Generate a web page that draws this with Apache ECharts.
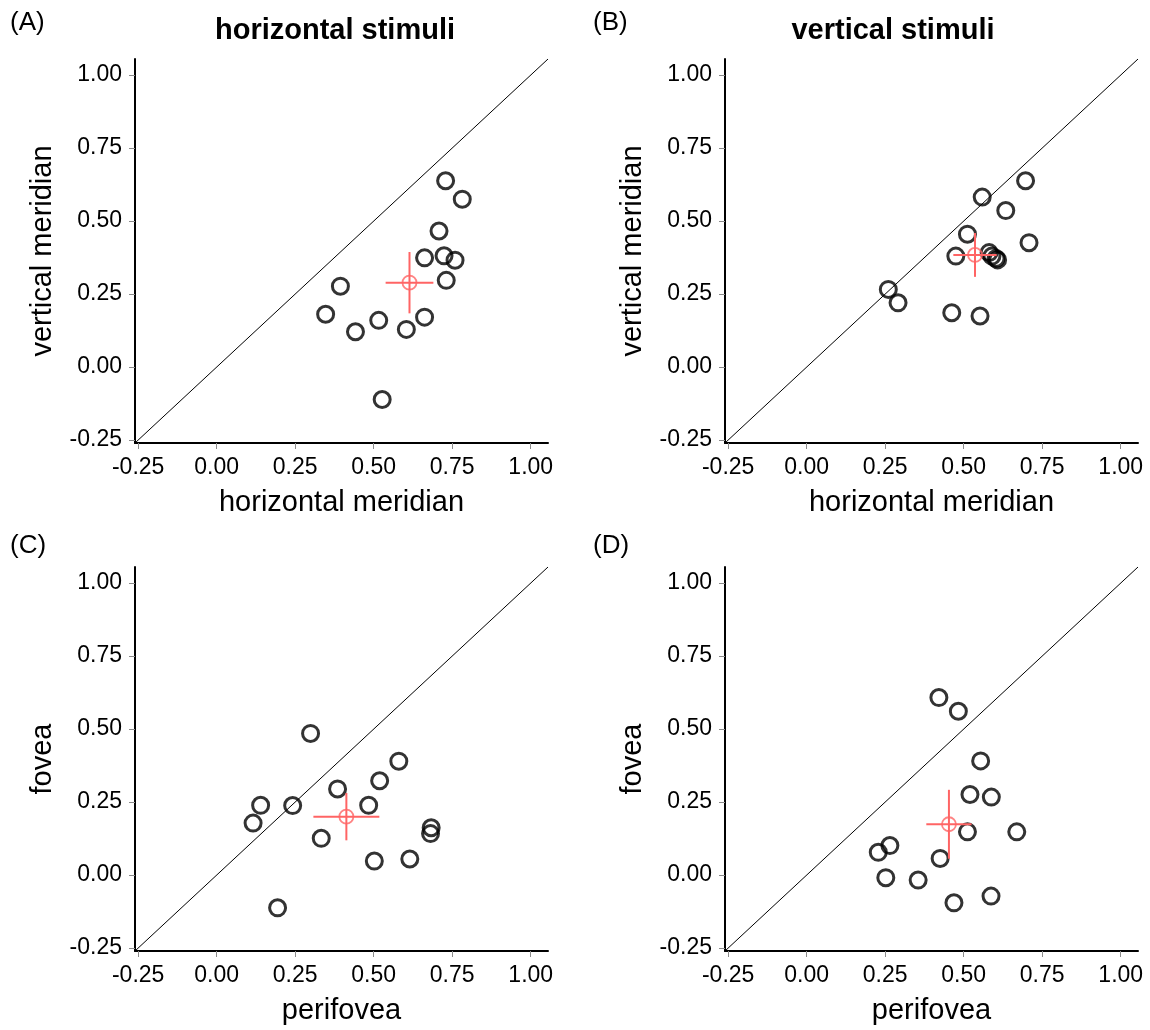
<!DOCTYPE html>
<html>
<head>
<meta charset="utf-8">
<script src="https://cdn.jsdelivr.net/npm/echarts@6/dist/echarts.min.js"></script>
<style>
  html, body { margin: 0; padding: 0; background: #fff; }
  #chart { width: 1150px; height: 1030px; }
</style>
</head>
<body>
<div id="chart"></div>
<script>
// tick values shared by every axis
var ticks = [-0.25, 0, 0.25, 0.5, 0.75, 1];
var axMin = -0.26, axMax = 1.055;

// (A) horizontal stimuli
var aX = [0.729, 0.782, 0.708, 0.662, 0.724, 0.759, 0.731, 0.394, 0.347, 0.442, 0.516, 0.604, 0.662, 0.527];
var aY = [0.638, 0.575, 0.466, 0.374, 0.381, 0.366, 0.297, 0.277, 0.181, 0.121, 0.160, 0.129, 0.171, -0.111];
// (B) vertical stimuli
var bX = [0.697, 0.559, 0.634, 0.512, 0.708, 0.475, 0.581, 0.590, 0.603, 0.608, 0.260, 0.291, 0.462, 0.552];
var bY = [0.638, 0.582, 0.536, 0.455, 0.426, 0.380, 0.392, 0.380, 0.372, 0.367, 0.266, 0.220, 0.186, 0.175];
// (C) horizontal stimuli, perifovea vs fovea
var cX = [0.299, 0.580, 0.519, 0.385, 0.140, 0.242, 0.484, 0.116, 0.333, 0.683, 0.681, 0.502, 0.615, 0.194];
var cY = [0.485, 0.390, 0.323, 0.295, 0.239, 0.238, 0.239, 0.178, 0.126, 0.162, 0.142, 0.048, 0.055, -0.112];
// (D) vertical stimuli, perifovea vs fovea
var dX = [0.421, 0.483, 0.554, 0.520, 0.588, 0.512, 0.669, 0.228, 0.265, 0.425, 0.252, 0.355, 0.469, 0.587];
var dY = [0.608, 0.561, 0.391, 0.276, 0.267, 0.148, 0.148, 0.078, 0.101, 0.057, -0.009, -0.017, -0.095, -0.072];

// group means and error bar half-lengths, panels A..D
var meanX = [0.614, 0.536, 0.413, 0.453];
var meanY = [0.289, 0.384, 0.200, 0.174];
var errX = [0.076, 0.069, 0.105, 0.072];
var errY = [0.105, 0.075, 0.081, 0.118];

var panelLabels = ['(A)', '(B)', '(C)', '(D)'];
var colTitles = ['horizontal stimuli', 'vertical stimuli'];
var xNames = ['horizontal meridian', 'horizontal meridian', 'perifovea', 'perifovea'];
var yNames = ['vertical meridian', 'vertical meridian', 'fovea', 'fovea'];

var RED = '#ff6464';
var FONT = '"Liberation Sans", Arial, sans-serif';

var xs = [aX, bX, cX, dX], ys = [aY, bY, cY, dY];
var gridPos = [[135, 59], [725, 59], [135, 567], [725, 567]];

var chart = echarts.init(document.getElementById('chart'), null, {renderer: 'canvas'});

var grids = [], xAxes = [], yAxes = [], series = [], titles = [];

function axisBase(name, gap) {
  return {
    type: 'value', min: axMin, max: axMax,
    name: name, nameLocation: 'middle', nameGap: gap,
    nameTextStyle: {fontSize: 29, color: '#000', fontFamily: FONT},
    splitLine: {show: false},
    axisLine: {onZero: false, lineStyle: {color: '#000', width: 2}},
    axisTick: {customValues: ticks, length: 6, lineStyle: {color: '#8a8a8a', width: 1}},
    axisLabel: {customValues: ticks, fontSize: 23, color: '#000', fontFamily: FONT,
      formatter: function (v) { return v.toFixed(2); }}
  };
}

for (var i = 0; i < 4; i++) {
  grids.push({left: gridPos[i][0], top: gridPos[i][1], width: 413, height: 384});
  var xa = axisBase(xNames[i], 45);
  xa.gridIndex = i;
  xa.axisLabel.margin = 13;
  xAxes.push(xa);
  var ya = axisBase(yNames[i], 78);
  ya.gridIndex = i;
  ya.axisLabel.margin = 13;
  yAxes.push(ya);

  // identity line across the full axis range
  series.push({
    type: 'line', xAxisIndex: i, yAxisIndex: i, symbol: 'none', silent: true,
    data: [[axMin, axMin], [axMax, axMax]],
    lineStyle: {color: '#000', width: 1}
  });

  var pts = xs[i].map(function (x, k) { return [x, ys[i][k]]; });
  series.push({
    type: 'scatter', xAxisIndex: i, yAxisIndex: i, symbol: 'circle', symbolSize: 16,
    data: pts,
    itemStyle: {color: 'rgba(0,0,0,0)', borderColor: '#000', borderWidth: 3}
  });

  series.push({
    type: 'custom', xAxisIndex: i, yAxisIndex: i, z: 5,
    data: [[meanX[i], meanY[i], errX[i], errY[i]]],
    encode: {x: 0, y: 1},
    renderItem: function (params, api) {
      var x = api.value(0), y = api.value(1), ex = api.value(2), ey = api.value(3);
      var l = api.coord([x - ex, y]), r = api.coord([x + ex, y]);
      var t = api.coord([x, y + ey]), b = api.coord([x, y - ey]);
      return {type: 'group', children: [
        {type: 'line', shape: {x1: l[0], y1: l[1], x2: r[0], y2: r[1]}, style: {stroke: RED, lineWidth: 2}},
        {type: 'line', shape: {x1: t[0], y1: t[1], x2: b[0], y2: b[1]}, style: {stroke: RED, lineWidth: 2}}
      ]};
    }
  });
  series.push({
    type: 'scatter', xAxisIndex: i, yAxisIndex: i, z: 6, symbol: 'circle', symbolSize: 14,
    data: [[meanX[i], meanY[i]]],
    itemStyle: {color: 'rgba(0,0,0,0)', borderColor: RED, borderWidth: 1.8}
  });

  titles.push({
    text: panelLabels[i], left: i % 2 ? 588 : 5, top: i < 2 ? 5 : 528,
    textStyle: {fontSize: 26, fontWeight: 'normal', color: '#000', fontFamily: FONT}
  });
}

titles.push({text: colTitles[0], left: 330, top: 11, textAlign: 'center',
  textStyle: {fontSize: 29, fontWeight: 'bold', color: '#000', fontFamily: FONT}});
titles.push({text: colTitles[1], left: 888, top: 11, textAlign: 'center',
  textStyle: {fontSize: 29, fontWeight: 'bold', color: '#000', fontFamily: FONT}});

chart.setOption({
  animation: false,
  backgroundColor: '#fff',
  title: titles,
  grid: grids,
  xAxis: xAxes,
  yAxis: yAxes,
  series: series
});
</script>
</body>
</html>
